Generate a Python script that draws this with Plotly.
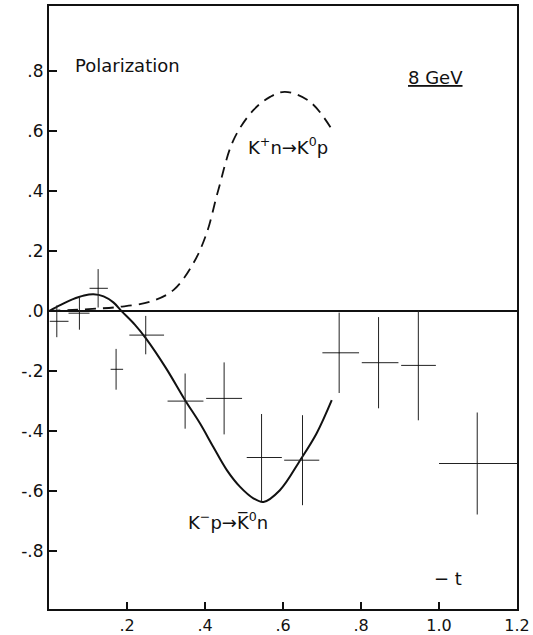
import plotly.graph_objects as go

# ---- data ----
# measured K- p -> K0bar n polarization points
pt_t = [0.020, 0.078, 0.126, 0.172, 0.248, 0.349, 0.449, 0.545, 0.650, 0.744, 0.845, 0.947, 1.098]
pt_P = [-0.034, -0.007, 0.076, -0.194, -0.080, -0.300, -0.291, -0.488, -0.497, -0.139, -0.172, -0.181, -0.508]
pt_t_lo = [0.002, 0.050, 0.104, 0.158, 0.206, 0.304, 0.403, 0.507, 0.603, 0.701, 0.802, 0.903, 1.000]
pt_t_hi = [0.050, 0.104, 0.151, 0.190, 0.295, 0.396, 0.495, 0.597, 0.693, 0.795, 0.896, 0.992, 1.200]
pt_err = [0.053, 0.055, 0.064, 0.068, 0.064, 0.092, 0.120, 0.145, 0.150, 0.134, 0.152, 0.183, 0.170]

# solid curve: K- p -> K0bar n
kp_t = [0.0, 0.03, 0.06, 0.09, 0.114, 0.14, 0.165, 0.186, 0.22, 0.248, 0.30, 0.349,
        0.387, 0.421, 0.456, 0.49, 0.524, 0.55, 0.592, 0.644, 0.686, 0.725]
kp_P = [0.0, 0.021, 0.039, 0.052, 0.056, 0.049, 0.029, 0.0, -0.045, -0.09, -0.19, -0.297,
        -0.374, -0.452, -0.53, -0.586, -0.624, -0.636, -0.597, -0.497, -0.408, -0.297]

# dashed curve: K+ n -> K0 p
kn_t = [0.0, 0.06, 0.12, 0.18, 0.259, 0.319, 0.37, 0.404, 0.434, 0.473, 0.524, 0.567,
        0.605, 0.669, 0.725]
kn_P = [0.0, 0.004, 0.008, 0.014, 0.031, 0.07, 0.159, 0.259, 0.403, 0.57, 0.67, 0.714,
        0.731, 0.698, 0.606]

x_tickvals = [0.2, 0.4, 0.6, 0.8, 1.0, 1.2]
x_ticktext = [".2", ".4", ".6", ".8", "1.0", "1.2"]
y_tickvals = [0.8, 0.6, 0.4, 0.2, 0.0, -0.2, -0.4, -0.6, -0.8]
y_ticktext = [".8", ".6", ".4", ".2", ".0", "-.2", "-.4", "-.6", "-.8"]

FONT = "DejaVu Sans"
INK = "#111111"

fig = go.Figure()

fig.add_trace(go.Scatter(
    x=kn_t, y=kn_P, mode="lines", line=dict(color=INK, width=1.8, dash="11px,7px", shape="spline"),
    hoverinfo="skip", showlegend=False))

fig.add_trace(go.Scatter(
    x=kp_t, y=kp_P, mode="lines", line=dict(color=INK, width=2, shape="spline"),
    hoverinfo="skip", showlegend=False))

fig.add_trace(go.Scatter(
    x=pt_t, y=pt_P, mode="markers",
    marker=dict(size=1, color=INK),
    error_x=dict(type="data", symmetric=False,
                 array=[h - t for h, t in zip(pt_t_hi, pt_t)],
                 arrayminus=[t - l for l, t in zip(pt_t_lo, pt_t)],
                 color="#222222", thickness=1, width=0),
    error_y=dict(type="data", array=pt_err, color="#222222", thickness=1, width=0),
    showlegend=False))

ann_font = dict(family=FONT, size=18, color=INK)
fig.add_annotation(x=0.062, y=0.82, text="Polarization", showarrow=False,
                   xanchor="left", yanchor="middle", font=ann_font)
fig.add_annotation(x=0.915, y=0.778, text="<u>8 GeV</u>", showarrow=False,
                   xanchor="left", yanchor="middle", font=ann_font)
fig.add_annotation(x=0.506, y=0.55, text="K<sup>+</sup>n\u2192K<sup>0</sup>p", showarrow=False,
                   xanchor="left", yanchor="middle", font=ann_font)
fig.add_annotation(x=0.352, y=-0.70, text="K<sup>\u2212</sup>p\u2192K\u0305<sup>0</sup>n", showarrow=False,
                   xanchor="left", yanchor="middle", font=ann_font)
fig.add_annotation(x=1.022, y=-0.89, text="\u2212 t", showarrow=False,
                   xanchor="center", yanchor="middle", font=ann_font)

fig.update_xaxes(range=[0, 1.2], tickvals=x_tickvals, ticktext=x_ticktext,
                 ticks="inside", ticklen=7, tickwidth=1.5, tickcolor=INK,
                 showline=True, linecolor=INK, linewidth=2, mirror=True,
                 showgrid=False, zeroline=False, ticklabelstandoff=1, automargin=False,
                 tickfont=dict(family=FONT, size=16, color=INK))
fig.update_yaxes(range=[-0.993, 1.017], tickvals=y_tickvals, ticktext=y_ticktext,
                 ticks="inside", ticklen=8, tickwidth=1.5, tickcolor=INK,
                 showline=True, linecolor=INK, linewidth=2, mirror=True, automargin=False,
                 showgrid=False, zeroline=True, zerolinecolor=INK, zerolinewidth=1.5,
                 tickfont=dict(family=FONT, size=17, color=INK))

fig.update_layout(width=533, height=635, margin=dict(l=49, r=16, t=6, b=26),
                  plot_bgcolor="white", paper_bgcolor="white")

fig.write_html("out.html")
